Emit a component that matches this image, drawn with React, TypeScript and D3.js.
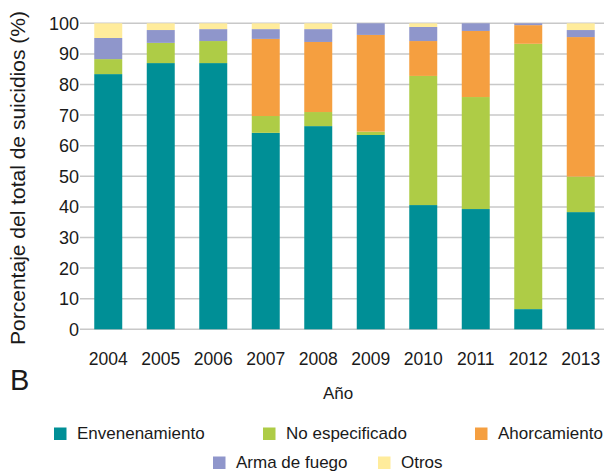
import React from "react";
import * as d3 from "d3";

const years = ["2004","2005","2006","2007","2008","2009","2010","2011","2012","2013"];
const seriesNames = ["Envenenamiento","No especificado","Ahorcamiento","Arma de fuego","Otros"];
const colors = ["#008f96","#aecc46","#f59f40","#8f96cb","#ffec9c"];

const envenenamiento = [83.4, 87.0, 87.0, 64.2, 66.4, 63.5, 40.6, 39.3, 6.6, 38.3];
const noEspecificado = [4.9, 6.6, 7.2, 5.5, 4.6, 1.1, 42.2, 36.6, 86.7, 11.6];
const ahorcamiento = [0, 0, 0, 25.2, 22.9, 31.6, 11.4, 21.6, 6.1, 45.6];
const armaDeFuego = [6.9, 4.2, 3.9, 3.2, 4.2, 3.8, 4.6, 2.5, 0.6, 2.3];
const otros = [4.8, 2.2, 1.9, 1.9, 1.9, 0, 1.2, 0, 0, 2.2];

const yTicks = [0,10,20,30,40,50,60,70,80,90,100];

const W = 606, H = 471;
const FONT = "'Liberation Sans', Arial, Helvetica, sans-serif";
const TXT = "#1a1a1a";

export default function App() {
  const series = [envenenamiento, noEspecificado, ahorcamiento, armaDeFuego, otros];
  const rows = years.map((y, i) => {
    const r: any = { year: y };
    seriesNames.forEach((n, k) => (r[n] = series[k][i]));
    return r;
  });
  const stacked = d3.stack().keys(seriesNames)(rows);

  const x = d3.scaleBand().domain(years).range([82, 607]).paddingInner(0.467).paddingOuter(0.2335);
  const y = d3.scaleLinear().domain([0, 100]).range([329.3, 23.3]);

  const legendRows = [
    [{ k: 0, x: 54 }, { k: 1, x: 263 }, { k: 2, x: 475 }],
    [{ k: 3, x: 213 }, { k: 4, x: 378 }],
  ];
  const legendY = [427.5, 456.5];

  return (
    <svg width={W} height={H} style={{ position: "absolute", left: 0, top: 0, background: "#fff" }} fontFamily={FONT}>
      {/* gridlines */}
      {yTicks.map((t) => (
        <line key={t} x1={80} x2={604} y1={y(t)} y2={y(t)} stroke="#c8c8c8" strokeWidth={1.5} />
      ))}
      {/* y tick labels */}
      {yTicks.map((t) => (
        <text key={"l" + t} x={79} y={y(t)} dy="0.36em" textAnchor="end" fontSize={18} fill={TXT}>
          {t}
        </text>
      ))}
      {/* bars */}
      {stacked.map((s, k) => (
        <g key={s.key} fill={colors[k]}>
          {s.map((d, i) => (
            <rect
              key={i}
              x={x(years[i])}
              width={x.bandwidth()}
              y={y(d[1])}
              height={Math.max(0, y(d[0]) - y(d[1]))}
            />
          ))}
        </g>
      ))}
      {/* x labels */}
      {years.map((yr) => (
        <text key={yr} x={(x(yr) as number) + x.bandwidth() / 2} y={365} textAnchor="middle" fontSize={17.5} fill={TXT}>
          {yr}
        </text>
      ))}
      <text x={338} y={399} textAnchor="middle" fontSize={17} fill={TXT}>Año</text>
      <text x={10} y={390} fontSize={29} fill={TXT}>B</text>
      <text
        transform="translate(25,178) rotate(-90)"
        textAnchor="middle"
        fontSize={21}
        fill={TXT}
      >
        Porcentaje del total de suicidios (%)
      </text>
      {/* legend */}
      {legendRows.map((row, ri) =>
        row.map((it) => (
          <g key={it.k} transform={`translate(${it.x},${legendY[ri]})`}>
            <rect width={12.5} height={12.5} fill={colors[it.k]} />
            <text x={23} y={11.5} fontSize={17} fill={TXT}>
              {seriesNames[it.k]}
            </text>
          </g>
        ))
      )}
    </svg>
  );
}
